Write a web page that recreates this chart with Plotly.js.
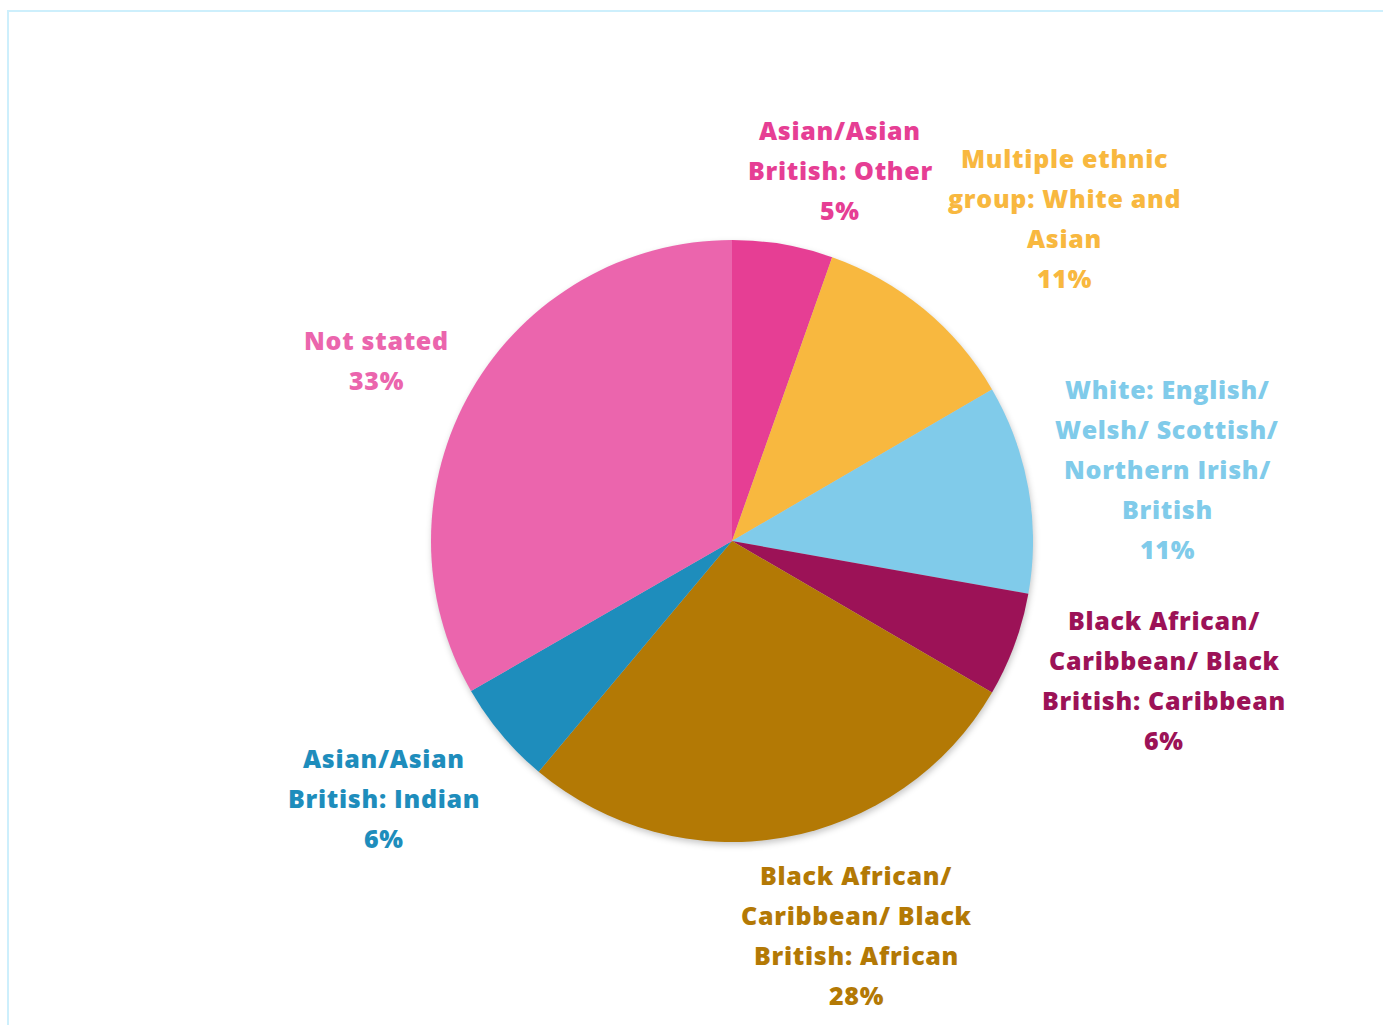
<!DOCTYPE html>
<html>
<head>
<meta charset="utf-8">
<script src="https://cdn.plot.ly/plotly-3.0.1.min.js"></script>
<style>
  html, body { margin: 0; padding: 0; background: #fff; }
  #chart { width: 1383px; height: 1025px; }
  .pielayer .trace { filter: drop-shadow(1px 3px 3px rgba(0,0,0,0.22)); }
  .annotation-text { letter-spacing: 0.7px; }
</style>
</head>
<body>
<div id="chart"></div>
<script>
// ---- data ----
const categories = [
  "Asian/Asian<br>British: Other",
  "Multiple ethnic<br>group: White and<br>Asian",
  "White: English/<br>Welsh/ Scottish/<br>Northern Irish/<br>British",
  "Black African/<br>Caribbean/ Black<br>British: Caribbean",
  "Black African/<br>Caribbean/ Black<br>British: African",
  "Asian/Asian<br>British: Indian",
  "Not stated"
];
const shares = [5.4, 11.2, 11.2, 5.6, 27.7, 5.6, 33.3];
const colors = ["#E63E94", "#F8B83F", "#80CBEA", "#9C1257", "#B37905", "#1E8DBC", "#EB65AD"];

// ---- layout helpers (label centres, px) ----
const W = 1383, H = 1025;
const labelPos = [[840, 170], [1064, 218], [1167, 469], [1164, 680], [856, 935], [384, 798], [376, 360]];
const LINE_GAP = 40;

const total = shares.reduce((a, b) => a + b, 0);
const annotations = [];
categories.forEach((cat, k) => {
  const pct = Math.round(shares[k] / total * 100) + '%';
  const lines = cat.split('<br>').concat([pct]);
  const n = lines.length;
  lines.forEach((ln, i) => {
    annotations.push({
      xref: 'paper', yref: 'paper',
      x: labelPos[k][0] / W, y: 1 - labelPos[k][1] / H,
      xanchor: 'center', yanchor: 'middle',
      yshift: ((n - 1) / 2 - i) * LINE_GAP,
      text: ln, showarrow: false,
      font: { family: 'Open Sans, sans-serif', size: 25, color: colors[k], weight: 800 }
    });
  });
});

const cx = 732, cy = 541, R = 301;
const trace = {
  type: 'pie',
  labels: categories,
  values: shares,
  sort: false,
  direction: 'clockwise',
  rotation: 0,
  textinfo: 'none',
  hoverinfo: 'label+percent',
  marker: { colors: colors, line: { width: 0 } },
  domain: { x: [(cx - 400) / W, (cx + 400) / W], y: [(H - cy - R) / H, (H - cy + R) / H] },
  showlegend: false
};

const layout = {
  width: W, height: H,
  margin: { l: 0, r: 0, t: 0, b: 0 },
  paper_bgcolor: '#ffffff',
  showlegend: false,
  annotations: annotations,
  shapes: [{
    type: 'rect', xref: 'paper', yref: 'paper',
    x0: 8 / W, x1: 1.02, y0: -0.02, y1: 1 - 11 / H,
    line: { color: '#CDEFFC', width: 2 }, fillcolor: 'rgba(0,0,0,0)'
  }]
};

Plotly.newPlot('chart', [trace], layout, { displayModeBar: false, staticPlot: true });
</script>
</body>
</html>
